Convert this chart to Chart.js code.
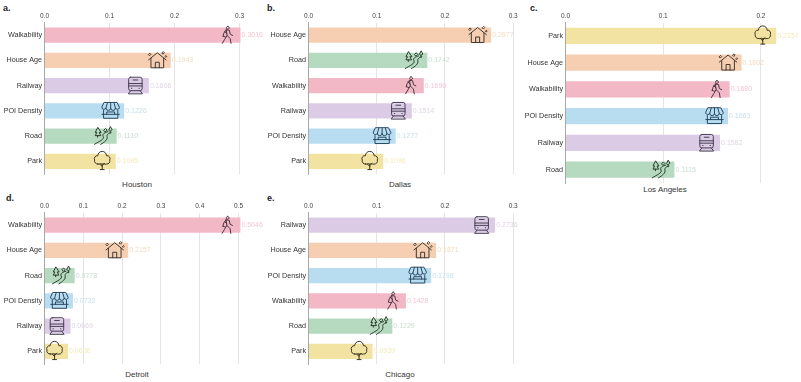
<!DOCTYPE html>
<html>
<head>
<meta charset="utf-8">
<title>Feature importance by city</title>
<script src="https://cdn.jsdelivr.net/npm/chart.js@4"></script>
<style>
  html, body { margin: 0; padding: 0; background: #fff; overflow: hidden; }
  #page { position: relative; width: 801px; height: 382px; font-family: "Liberation Sans", Arial, sans-serif; }
  canvas { position: absolute; }
  .letter { position: absolute; font-size: 9px; font-weight: bold; color: #222; line-height: 12px; opacity: 0.99; }
  .city { position: absolute; font-size: 8px; color: #333; line-height: 12px; transform: translateX(-50%); white-space: nowrap; opacity: 0.99; }
</style>
</head>
<body>
<div id="page"></div>
<script>
// values
const houstonLabels = ['Walkability', 'House Age', 'Railway', 'POI Density', 'Road', 'Park'];
const houstonValues = [0.3016, 0.1943, 0.1606, 0.1226, 0.1110, 0.1095];
const houstonTicks = [0, 0.1, 0.2, 0.3];

const dallasLabels = ['House Age', 'Road', 'Walkability', 'Railway', 'POI Density', 'Park'];
const dallasValues = [0.2677, 0.1742, 0.1690, 0.1514, 0.1277, 0.1096];
const dallasTicks = [0, 0.1, 0.2, 0.3];

const laLabels = ['Park', 'House Age', 'Walkability', 'POI Density', 'Railway', 'Road'];
const laValues = [0.2157, 0.1802, 0.1680, 0.1663, 0.1582, 0.1115];
const laTicks = [0, 0.1, 0.2];

const detroitLabels = ['Walkability', 'House Age', 'Road', 'POI Density', 'Railway', 'Park'];
const detroitValues = [0.5046, 0.2157, 0.0778, 0.0732, 0.0669, 0.0606];
const detroitTicks = [0, 0.1, 0.2, 0.3, 0.4, 0.5];

const chicagoLabels = ['Railway', 'House Age', 'POI Density', 'Walkability', 'Road', 'Park'];
const chicagoValues = [0.2736, 0.1871, 0.1798, 0.1428, 0.1229, 0.0939];
const chicagoTicks = [0, 0.1, 0.2, 0.3];

const barColors = {
  'Walkability': '#f2b8c6',
  'House Age': '#f6cfb2',
  'Railway': '#dccbe4',
  'POI Density': '#b8dcf0',
  'Road': '#b5dabf',
  'Park': '#f3e3a3'
};

const labelColors = {
  'Walkability': '#f4c6d2',
  'House Age': '#f0dcc0',
  'Railway': '#dfd3e6',
  'POI Density': '#c6e1ee',
  'Road': '#c9dccd',
  'Park': '#f3e9b8'
};

const iconColors = {
  'Walkability': '#4a3540',
  'House Age': '#3f3630',
  'Railway': '#453f55',
  'POI Density': '#26475f',
  'Road': '#2a3a2e',
  'Park': '#3a3420'
};

// little line icons, drawn on a 24x24 box
const iconPaths = {
  'Walkability': 'M13 1.5a1.8 1.8 0 1 0 0.01 0M11 6l4 0.5 1 5 3 1.5M11 6l-3 4-1 4M11 6l1 7-3 5-3 5M12 13l4 4 1 6M9 8l3 3M7 14l3 1',
  'House Age': 'M1 12L12 3l11 9M4 10v12h16V10M9.5 22v-7h5v7M1 5l1.5-1.5L4 5 2.5 6.5zM18 3l1.5-1.5L21 3l-1.5 1.5zM22 7.5l1-1 1 1-1 1z',
  'Railway': 'M6 2h12a2.5 2.5 0 0 1 2.5 2.5v12A2.5 2.5 0 0 1 18 19H6a2.5 2.5 0 0 1-2.5-2.5v-12A2.5 2.5 0 0 1 6 2zM3.5 10h17M3.5 13h17M9 5.5h6M7 16h.5M16.5 16h.5M6 19l-3 4h18l-3-4',
  'POI Density': 'M4 2h16l3 6v1a2.7 2.7 0 0 1-5 0 2.7 2.7 0 0 1-6 0 2.7 2.7 0 0 1-6 0 2.7 2.7 0 0 1-5 0V8zM8 2L6 9M12 2v7M16 2l2 7M3 12v10h18V12M1 17h22M7 17v-3h10v3',
  'Road': 'M1 23C7 19 14 17 12 13 10.5 10 14 8 18 7M9 23c5-3 9-6 8-10-.5-2 1-4 5-5M5 2l-3 6h2l-2 4h7L7 8h2zM5 12v2M21 1l-2 4a2.3 2.3 0 0 0 4 0zM21 7v2M13 5l2-2 2 2-2 2z',
  'Park': 'M12 23v-7M12 19l-3-3M12 18l3-3M9.5 23h5M6.5 16a3.8 3.8 0 0 1-4-5 3.8 3.8 0 0 1 4-5.5 5 5 0 0 1 11 0 3.8 3.8 0 0 1 4 5.5 3.8 3.8 0 0 1-4 5 3.5 3.5 0 0 1-3.5-.5 3.5 3.5 0 0 1-4 0 3.5 3.5 0 0 1-3.5 .5z'
};

// value labels at the bar end, and the icon sitting just inside it
const barDecorations = {
  id: 'barDecorations',
  afterDatasetsDraw(chart) {
    const ctx = chart.ctx;
    const x = chart.scales.x;
    const y = chart.scales.y;
    const size = chart.options.iconSize;
    chart.data.labels.forEach((label, i) => {
      const value = chart.data.datasets[0].data[i];
      const endX = x.getPixelForValue(value);
      const midY = y.getPixelForValue(i);

      ctx.save();
      ctx.translate(endX - 13.5 - size / 2, midY - size / 2 - 0.5);
      ctx.scale(size / 24, size / 24);
      ctx.strokeStyle = iconColors[label];
      ctx.lineWidth = 1.25;
      ctx.lineJoin = 'round';
      ctx.lineCap = 'round';
      ctx.stroke(new Path2D(iconPaths[label]));
      ctx.restore();

      ctx.save();
      ctx.font = '7px "Liberation Sans", Arial, sans-serif';
      ctx.fillStyle = labelColors[label];
      ctx.textBaseline = 'middle';
      ctx.fillText(value.toFixed(4), endX + 1, midY);
      ctx.restore();
    });
  }
};

function makePanel(opts) {
  const page = document.getElementById('page');

  const letter = document.createElement('div');
  letter.className = 'letter';
  letter.textContent = opts.letter;
  letter.style.left = opts.letterX + 'px';
  letter.style.top = opts.top + 2 + 'px';
  page.appendChild(letter);

  const city = document.createElement('div');
  city.className = 'city';
  city.textContent = opts.city;
  city.style.left = opts.cityX + 'px';
  city.style.top = opts.cityY - 6 + 'px';
  page.appendChild(city);

  const canvas = document.createElement('canvas');
  canvas.style.left = opts.left + 'px';
  canvas.style.top = opts.top + 'px';
  canvas.style.width = opts.width + 'px';
  canvas.style.height = opts.height + 'px';
  canvas.width = opts.width;
  canvas.height = opts.height;
  page.appendChild(canvas);

  new Chart(canvas.getContext('2d'), {
    type: 'bar',
    data: {
      labels: opts.labels,
      datasets: [{
        data: opts.values,
        backgroundColor: opts.labels.map(l => barColors[l]),
        borderWidth: 0,
        categoryPercentage: 1,
        barPercentage: 0.6
      }]
    },
    plugins: [barDecorations],
    options: {
      indexAxis: 'y',
      responsive: false,
      animation: false,
      iconSize: 19,
      layout: { padding: { left: 0, top: 0, right: opts.padRight, bottom: opts.padBottom } },
      plugins: { legend: { display: false }, title: { display: false }, tooltip: { enabled: false } },
      scales: {
        x: {
          position: 'top',
          min: 0,
          max: opts.axisMax,
          afterBuildTicks: axis => { axis.ticks = opts.ticks.map(v => ({ value: v })); },
          afterFit: axis => { axis.height = opts.axisTop; },
          grid: { color: '#e4e4e4', lineWidth: 1, drawTicks: false },
          border: { display: false },
          ticks: {
            padding: 2,
            maxRotation: 0,
            autoSkip: false,
            color: '#444',
            font: { size: 6.5, family: '"Liberation Sans", Arial, sans-serif' },
            callback: v => v.toFixed(1)
          }
        },
        y: {
          afterFit: axis => { axis.width = opts.axisLeft; },
          grid: { display: false, drawTicks: false },
          border: { display: true, color: '#a8a8a8', width: 1 },
          ticks: {
            padding: 2.5,
            autoSkip: false,
            color: '#333',
            font: { size: 7.2, family: '"Liberation Sans", Arial, sans-serif' }
          }
        }
      }
    }
  });
}

makePanel({
  letter: 'a.', letterX: 3, city: 'Houston', cityX: 137, cityY: 185,
  left: 0, top: 0, width: 265, height: 190,
  axisLeft: 44.5, axisTop: 22.5, padRight: 6, padBottom: 16,
  axisMax: 0.33, labels: houstonLabels, values: houstonValues, ticks: houstonTicks
});
makePanel({
  letter: 'b.', letterX: 267, city: 'Dallas', cityX: 400, cityY: 185,
  left: 265, top: 0, width: 265, height: 190,
  axisLeft: 43.5, axisTop: 22.5, padRight: 10, padBottom: 16,
  axisMax: 0.31, labels: dallasLabels, values: dallasValues, ticks: dallasTicks
});
makePanel({
  letter: 'c.', letterX: 530, city: 'Los Angeles', cityX: 665, cityY: 189.5,
  left: 520, top: 0, width: 281, height: 190,
  axisLeft: 45.5, axisTop: 22.5, padRight: 1, padBottom: 7,
  axisMax: 0.24, labels: laLabels, values: laValues, ticks: laTicks
});
makePanel({
  letter: 'd.', letterX: 6, city: 'Detroit', cityX: 137, cityY: 375,
  left: 0, top: 190, width: 265, height: 192,
  axisLeft: 44.5, axisTop: 22.5, padRight: 7, padBottom: 18,
  axisMax: 0.55, labels: detroitLabels, values: detroitValues, ticks: detroitTicks
});
makePanel({
  letter: 'e.', letterX: 267, city: 'Chicago', cityX: 400, cityY: 375,
  left: 265, top: 190, width: 265, height: 192,
  axisLeft: 43.5, axisTop: 22.5, padRight: 10, padBottom: 18,
  axisMax: 0.31, labels: chicagoLabels, values: chicagoValues, ticks: chicagoTicks
});
</script>
</body>
</html>
